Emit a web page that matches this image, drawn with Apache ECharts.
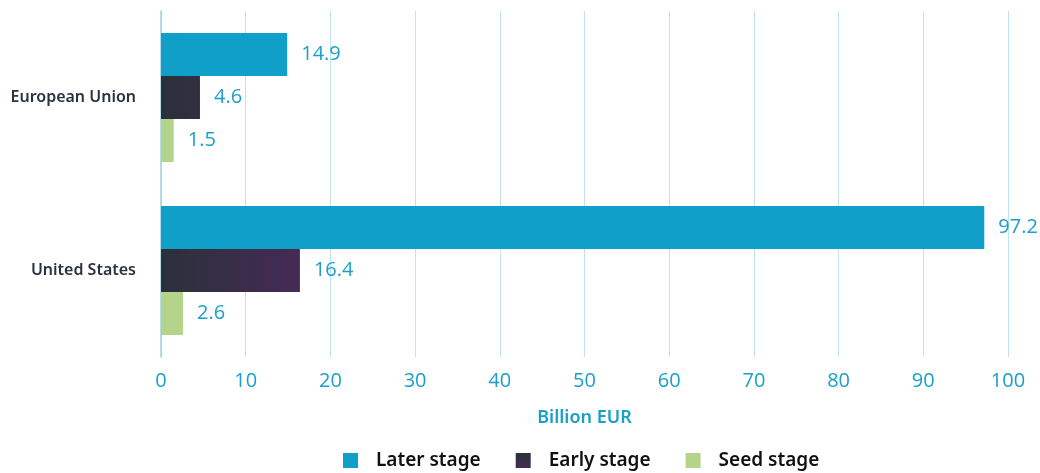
<!DOCTYPE html>
<html>
<head>
<meta charset="utf-8">
<script src="https://cdn.jsdelivr.net/npm/echarts@6/dist/echarts.min.js"></script>
<style>
  html, body { margin: 0; padding: 0; background: #ffffff; }
  #chart { width: 1040px; height: 473px; }
</style>
</head>
<body>
<div id="chart"></div>
<script>
// Venture capital investment by stage, billion EUR
const regions = ['European Union', 'United States'];
const laterStage = [14.9, 97.2];
const earlyStage = [4.6, 16.4];
const seedStage = [1.5, 2.6];
const xTicks = [0, 10, 20, 30, 40, 50, 60, 70, 80, 90, 100];

const BLUE = '#109fc8';
const GREEN = '#b4d48a';
const EARLY_FROM = [42, 49, 57];   // dark slate
const EARLY_TO = [70, 42, 86];     // aubergine

function mix(a, b, t) {
  const c = a.map((v, i) => Math.round(v + (b[i] - v) * t));
  return 'rgb(' + c.join(',') + ')';
}
const earlyMax = Math.max(...earlyStage);
const earlyData = earlyStage.map(v => ({
  value: v,
  itemStyle: {
    color: new echarts.graphic.LinearGradient(0, 0, 1, 0, [
      { offset: 0, color: mix(EARLY_FROM, EARLY_TO, 0) },
      { offset: 1, color: mix(EARLY_FROM, EARLY_TO, v / earlyMax) }
    ])
  }
}));

const labelStyle = {
  show: true,
  position: 'right',
  distance: 14,
  color: '#1a9fca',
  fontFamily: 'Open Sans',
  fontSize: 20,
  fontWeight: 'normal'
};

const chart = echarts.init(document.getElementById('chart'), null, { renderer: 'canvas' });
chart.setOption({
  animation: false,
  grid: { left: 161, right: 32, top: 11, bottom: 116, containLabel: false },
  legend: {
    top: 451,
    left: 343,
    padding: 0,
    itemWidth: 15,
    itemHeight: 15,
    itemGap: 35,
    icon: 'rect',
    textStyle: { color: '#111111', fontFamily: 'Noto Sans', fontSize: 19, fontWeight: 600, padding: [0, 0, 0, 13] },
    data: [
      { name: 'Later stage', itemStyle: { color: BLUE } },
      { name: 'Early stage', itemStyle: { color: new echarts.graphic.LinearGradient(0, 0, 0, 1, [
        { offset: 0, color: mix(EARLY_FROM, EARLY_TO, 0) },
        { offset: 1, color: mix(EARLY_FROM, EARLY_TO, 1) }
      ]) } },
      { name: 'Seed stage', itemStyle: { color: GREEN } }
    ]
  },
  xAxis: {
    type: 'value',
    min: xTicks[0],
    max: xTicks[xTicks.length - 1],
    interval: xTicks[1] - xTicks[0],
    name: 'Billion EUR',
    nameLocation: 'middle',
    nameGap: 52,
    nameTextStyle: { color: '#1a9fca', fontFamily: 'Noto Sans', fontSize: 18, fontWeight: 600 },
    axisLine: { show: false },
    axisTick: { show: false },
    axisLabel: { color: '#1a9fca', fontFamily: 'Open Sans', fontSize: 20, margin: 14 },
    splitLine: { show: true, lineStyle: { color: '#bfe2ee', width: 1 } }
  },
  yAxis: {
    type: 'category',
    data: regions,
    inverse: true,
    axisLine: { show: true, lineStyle: { color: '#9dd3e6', width: 1.5 } },
    axisTick: { show: false },
    axisLabel: { color: '#2a3340', fontFamily: 'Noto Sans', fontSize: 16, fontWeight: 600, margin: 25 }
  },
  series: [
    { name: 'Later stage', type: 'bar', data: laterStage, barWidth: 43, barGap: '0%',
      itemStyle: { color: BLUE }, label: labelStyle },
    { name: 'Early stage', type: 'bar', data: earlyData, barWidth: 43, barGap: '0%',
      itemStyle: { color: 'rgb(42,49,57)' }, label: labelStyle },
    { name: 'Seed stage', type: 'bar', data: seedStage, barWidth: 43, barGap: '0%',
      itemStyle: { color: GREEN }, label: labelStyle }
  ]
});
</script>
</body>
</html>
